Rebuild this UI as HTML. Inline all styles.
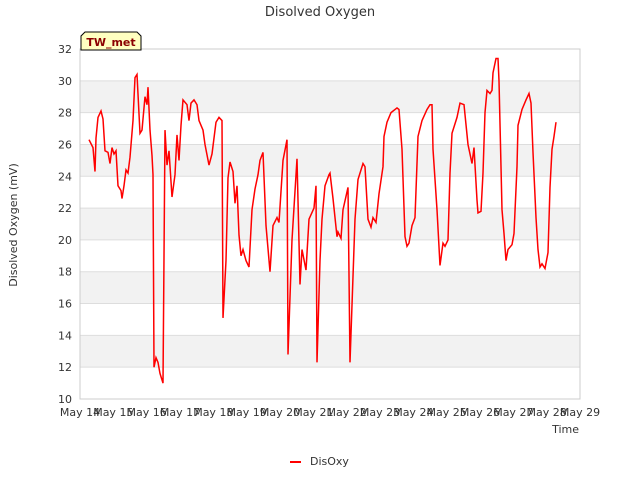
<!DOCTYPE html>
<html><head><meta charset="utf-8"><style>
body{margin:0;background:#fff;font-family:"Liberation Sans","DejaVu Sans",sans-serif}
svg text{font-family:"DejaVu Sans","Liberation Sans",sans-serif}
</style></head><body>
<svg id="c" width="640" height="480">
<text x="320" y="16" font-size="13" text-anchor="middle" fill="#333">Disolved Oxygen</text>
<g id="bands"></g><g id="grid"></g>
<rect x="80" y="49" width="500" height="350" fill="none" stroke="#ccc"/>
<g id="yt"></g><g id="xt"></g>
<path id="line" fill="none" stroke="#ff0000" stroke-width="1.5"/>
<text transform="translate(17,225) rotate(-90)" font-size="11" text-anchor="middle" fill="#333">Disolved Oxygen (mV)</text>
<text x="579" y="433" font-size="11" text-anchor="end" fill="#333">Time</text>
<g>
<path d="M81,50 L81,36 L85,32 L137,32 L141,36 L141,50 Z" fill="#ffffc0" stroke="#000"/>
<text x="111" y="46" font-size="11" font-weight="bold" text-anchor="middle" fill="#8b0000">TW_met</text></g>
<g>
<line x1="290" y1="462" x2="301" y2="462" stroke="#ff0000" stroke-width="2"/>
<text x="310" y="465" font-size="11" fill="#333">DisOxy</text></g>
</svg>
<script>
const xTickLabels=["May 14","May 15","May 16","May 17","May 18","May 19","May 20","May 21","May 22","May 23","May 24","May 25","May 26","May 27","May 28","May 29"];
const yTicks=[10,12,14,16,18,20,22,24,26,28,30,32];
const days=[0.27,0.39,0.45,0.48,0.54,0.63,0.69,0.75,0.84,0.90,0.96,1.02,1.08,1.14,1.23,1.26,1.32,1.38,1.44,1.50,1.59,1.65,1.71,1.80,1.86,1.95,2.01,2.04,2.10,2.16,2.19,2.22,2.28,2.34,2.40,2.49,2.55,2.61,2.67,2.76,2.85,2.91,2.97,3.03,3.09,3.21,3.27,3.33,3.42,3.51,3.57,3.69,3.75,3.87,3.96,4.08,4.17,4.26,4.29,4.38,4.44,4.50,4.59,4.65,4.71,4.77,4.83,4.89,4.98,5.07,5.16,5.25,5.34,5.40,5.49,5.58,5.70,5.79,5.91,5.97,6.09,6.21,6.24,6.36,6.51,6.60,6.66,6.78,6.87,7.02,7.08,7.11,7.20,7.26,7.35,7.47,7.50,7.59,7.71,7.74,7.83,7.89,8.04,8.10,8.25,8.34,8.49,8.55,8.64,8.73,8.79,8.88,8.97,9.09,9.12,9.21,9.33,9.51,9.57,9.66,9.75,9.81,9.87,9.96,10.05,10.14,10.26,10.41,10.50,10.56,10.59,10.71,10.80,10.89,10.95,11.04,11.10,11.16,11.31,11.40,11.52,11.64,11.76,11.82,11.91,11.94,12.03,12.09,12.15,12.21,12.30,12.36,12.39,12.48,12.54,12.57,12.66,12.72,12.78,12.84,12.96,13.02,13.11,13.14,13.26,13.38,13.47,13.53,13.59,13.68,13.74,13.80,13.86,13.95,14.04,14.10,14.16,14.22,14.28];
const disoxy=[26.3,25.8,24.3,26.4,27.7,28.1,27.6,25.6,25.5,24.8,25.8,25.4,25.6,23.4,23.1,22.6,23.4,24.4,24.2,25.2,27.5,30.2,30.4,26.7,26.9,29.0,28.5,29.6,26.9,25.3,24.1,12.0,12.6,12.3,11.6,11.0,26.9,24.7,25.6,22.7,24.1,26.6,25.0,27.2,28.8,28.5,27.5,28.6,28.8,28.5,27.5,26.9,26.0,24.7,25.4,27.4,27.7,27.5,15.1,18.7,23.9,24.9,24.3,22.3,23.4,20.3,19.0,19.4,18.7,18.3,21.9,23.2,24.1,25.0,25.5,20.9,18.0,20.9,21.4,21.1,25.0,26.3,12.8,20.0,25.1,17.2,19.4,18.1,21.3,22.0,23.4,12.3,18.7,21.3,23.4,24.1,24.2,22.6,20.2,20.5,20.1,21.9,23.3,12.3,21.3,23.8,24.8,24.6,21.3,20.8,21.4,21.1,22.9,24.6,26.5,27.4,28.0,28.3,28.2,25.7,20.2,19.6,19.8,20.9,21.4,26.5,27.5,28.2,28.5,28.5,25.7,21.9,18.4,19.8,19.6,20.0,24.2,26.7,27.7,28.6,28.5,26.0,24.8,25.8,22.5,21.7,21.8,24.2,28.0,29.4,29.2,29.4,30.5,31.4,31.4,30.0,21.9,20.4,18.7,19.4,19.7,20.4,24.6,27.2,28.2,28.8,29.2,28.6,25.5,21.4,19.4,18.3,18.5,18.2,19.2,23.3,25.7,26.5,27.4];
const X=d=>80+d*500/15, Y=v=>399-(v-10)*350/22;
const NS="http://www.w3.org/2000/svg";
const bands=document.getElementById('bands'),grid=document.getElementById('grid'),yt=document.getElementById('yt'),xt=document.getElementById('xt');
for(let i=0;i<yTicks.length-1;i++){
  if(i%2===1){const r=document.createElementNS(NS,'rect');
  r.setAttribute('x',80);r.setAttribute('width',500);r.setAttribute('y',Y(yTicks[i+1]));r.setAttribute('height',Y(yTicks[i])-Y(yTicks[i+1]));r.setAttribute('fill','#f2f2f2');
  
  
  bands.appendChild(r);}
}
yTicks.forEach(v=>{
  const l=document.createElementNS(NS,'line');l.setAttribute('x1',80);l.setAttribute('x2',580);l.setAttribute('y1',Y(v));l.setAttribute('y2',Y(v));l.setAttribute('stroke','#ddd');
  
  
  grid.appendChild(l);
  const t=document.createElementNS(NS,'text');t.setAttribute('x',72);t.setAttribute('y',Y(v)+4);t.setAttribute('font-size','11');t.setAttribute('text-anchor','end');t.setAttribute('fill','#333');t.textContent=v;
  
  
  yt.appendChild(t);
});
xTickLabels.forEach((s,i)=>{
  const t=document.createElementNS(NS,'text');t.setAttribute('x',X(i));t.setAttribute('y',416);t.setAttribute('font-size','11');t.setAttribute('text-anchor','middle');t.setAttribute('fill','#333');t.textContent=s;
  
  
  xt.appendChild(t);
});
document.getElementById('line').setAttribute('d',days.map((d,i)=>(i?'L':'M')+X(d).toFixed(1)+','+Y(disoxy[i]).toFixed(1)).join(''));
</script>
</body></html>
